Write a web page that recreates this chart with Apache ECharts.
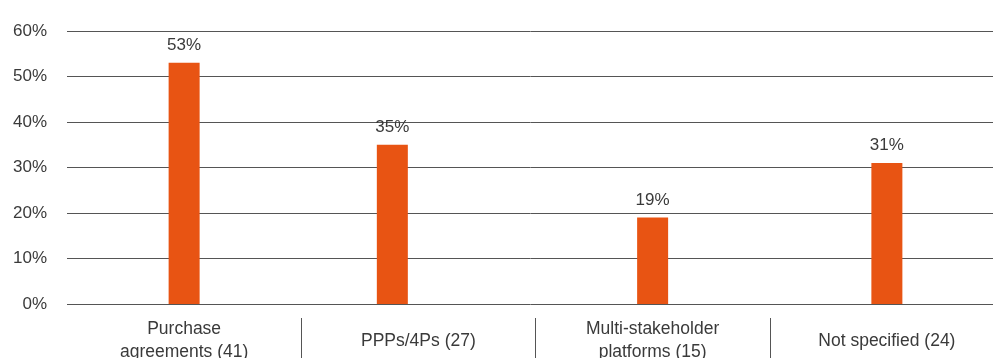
<!DOCTYPE html>
<html>
<head>
<meta charset="utf-8">
<script src="https://cdn.jsdelivr.net/npm/echarts@6/dist/echarts.min.js"></script>
<style>
  html, body { margin: 0; padding: 0; background: #fff; }
  #main { width: 993px; height: 358px; }
</style>
</head>
<body>
<div id="main"></div>
<script>
  var categories = ['Purchase\nagreements (41)', 'PPPs/4Ps (27)', 'Multi-stakeholder\nplatforms (15)', 'Not specified (24)'];
  var shares = [53, 35, 19, 31];
  // the second bar sits left of its category centre in the original
  var shiftedIndex = 1;

  var mainData = shares.map(function (v, i) { return i === shiftedIndex ? '-' : v; });
  var shiftedData = shares.map(function (v, i) { return i === shiftedIndex ? v : '-'; });
  var emptyData = shares.map(function () { return '-'; });

  var txt = '#3a3a3a';
  var font = 'Liberation Sans';
  var barColor = '#E85413';
  var lineColor = '#555';

  var plotLeft = 67, plotRight = -11, plotWidth = 993 - plotLeft - plotRight;
  var catWidth = plotWidth / categories.length;

  var chart = echarts.init(document.getElementById('main'));
  var barLabel = {
    show: true,
    position: 'top',
    distance: 9,
    formatter: '{c}%',
    color: txt,
    fontFamily: font,
    fontSize: 17
  };
  chart.setOption({
    animation: false,
    grid: [
      { left: plotLeft, right: plotRight, top: 31, bottom: 54, outerBoundsMode: 'none', containLabel: false },
      // strip under the axis holding the separators, starting after the first category
      { left: plotLeft + catWidth, right: plotRight, top: 318, bottom: 0, outerBoundsMode: 'none', containLabel: false }
    ],
    xAxis: [{
      type: 'category',
      gridIndex: 0,
      data: categories,
      axisLine: { show: false },
      axisTick: { show: false },
      axisLabel: {
        interval: 0,
        margin: 37,
        verticalAlign: 'middle',
        color: txt,
        fontFamily: font,
        fontSize: 17.5,
        lineHeight: 23
      }
    }, {
      type: 'category',
      gridIndex: 0,
      data: categories,
      show: false
    }, {
      type: 'category',
      gridIndex: 1,
      data: categories.slice(1),
      axisLine: { show: false },
      axisTick: { show: false },
      axisLabel: { show: false },
      splitLine: {
        show: true,
        interval: 0,
        lineStyle: { color: lineColor, width: 1 }
      }
    }],
    yAxis: [{
      type: 'value',
      gridIndex: 0,
      min: 0,
      max: 60,
      interval: 10,
      axisLine: { show: false },
      axisTick: { show: false },
      splitLine: { lineStyle: { color: lineColor, width: 1 } },
      axisLabel: {
        formatter: '{value}%',
        margin: 20,
        color: txt,
        fontFamily: font,
        fontSize: 17
      }
    }, {
      type: 'value',
      gridIndex: 1,
      min: 0,
      max: 1,
      axisLine: { show: false },
      axisTick: { show: false },
      axisLabel: { show: false },
      splitLine: { show: false }
    }],
    series: [{
      type: 'bar',
      xAxisIndex: 0,
      yAxisIndex: 0,
      data: mainData,
      barWidth: 31,
      itemStyle: { color: barColor },
      label: barLabel
    }, {
      type: 'bar',
      xAxisIndex: 1,
      yAxisIndex: 0,
      data: shiftedData,
      barWidth: 31,
      barGap: '68%',
      itemStyle: { color: barColor },
      label: barLabel
    }, {
      type: 'bar',
      xAxisIndex: 1,
      yAxisIndex: 0,
      data: emptyData,
      barWidth: 31
    }]
  });
</script>
</body>
</html>
